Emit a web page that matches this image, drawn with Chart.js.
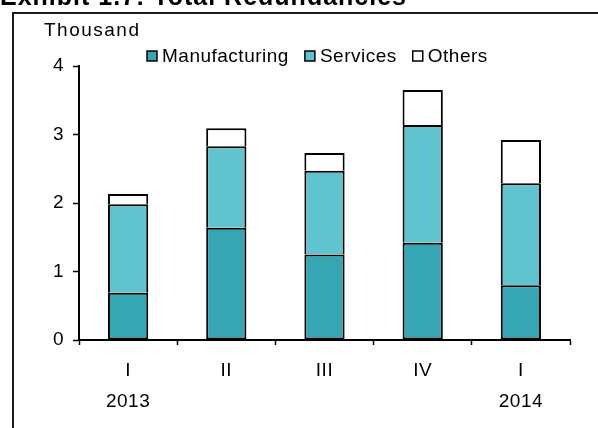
<!DOCTYPE html>
<html>
<head>
<meta charset="utf-8">
<style>
  html, body { margin: 0; padding: 0; background: #fff; }
  #wrap { width: 598px; height: 428px; position: relative; }
</style>
<script src="https://cdn.jsdelivr.net/npm/chart.js@4/dist/chart.umd.min.js"></script>
</head>
<body>
<div id="wrap"><canvas id="c" width="598" height="428"></canvas></div>
<script>
// Quarters with the year shown under the first quarter of each year
const quarters = ['I', 'II', 'III', 'IV', 'I'];
const years = ['2013', '', '', '', '2014'];

// Redundancies by sector, thousands
const manufacturing = [0.69, 1.64, 1.25, 1.42, 0.80];
const services = [1.29, 1.19, 1.22, 1.72, 1.49];
const others = [0.15, 0.26, 0.26, 0.51, 0.63];

const yTicks = [0, 1, 2, 3, 4];

const seriesNames = ['Manufacturing', 'Services', 'Others'];
const seriesColors = ['#36a6b4', '#60c4cf', '#ffffff'];

const FONT = 'Liberation Sans, Arial, sans-serif';
const SPACING = '0.5px';

const labels = quarters.map((q, i) => [q, years[i]]);

// Frame, title, unit caption and legend drawn around the plot
const decorations = {
  id: 'decorations',
  beforeLayout(chart) { chart.ctx.letterSpacing = SPACING; },
  beforeDraw(chart) { chart.ctx.letterSpacing = SPACING; },
  afterDraw(chart) {
    const ctx = chart.ctx;
    ctx.save();

    // outer frame (extends past the canvas edge)
    ctx.strokeStyle = '#1a1a1a';
    ctx.lineWidth = 2;
    ctx.strokeRect(13, 13, 700, 600);

    // title
    ctx.fillStyle = '#000';
    ctx.letterSpacing = '1px';
    ctx.font = 'bold 25px ' + FONT;
    ctx.textAlign = 'left';
    ctx.textBaseline = 'alphabetic';
    ctx.fillText('Exhibit 1.7: Total Redundancies', 0, 5);

    // unit caption
    ctx.letterSpacing = '1.5px';
    ctx.font = '19px ' + FONT;
    ctx.fillText('Thousand', 44, 36);

    // legend
    ctx.letterSpacing = SPACING;
    ctx.textBaseline = 'middle';
    let x = 147;
    const y = 56;
    chart.data.datasets.forEach((ds, i) => {
      ctx.fillStyle = ds.backgroundColor;
      ctx.fillRect(x, y - 5, 10, 10);
      ctx.strokeStyle = '#000';
      ctx.lineWidth = 1.5;
      ctx.strokeRect(x, y - 5, 10, 10);
      ctx.fillStyle = '#000';
      ctx.fillText(ds.label, x + 15, y + 1);
      x += 15 + ctx.measureText(ds.label).width + 16;
    });
    ctx.restore();
  }
};

// Lowest segment gets a full outline; upper segments share the line below them
const datasets = [manufacturing, services, others].map((data, i) => ({
  label: seriesNames[i],
  data: data,
  backgroundColor: seriesColors[i],
  borderColor: '#000',
  borderWidth: i === 0 ? 2 : { top: 2, left: 2, right: 2, bottom: 0 },
  borderSkipped: false,
  categoryPercentage: 1,
  barPercentage: 0.41
}));

new Chart(document.getElementById('c'), {
  type: 'bar',
  data: { labels: labels, datasets: datasets },
  plugins: [decorations],
  options: {
    responsive: false,
    animation: false,
    devicePixelRatio: 1,
    layout: { padding: { top: 66, right: 28, left: 0, bottom: 0 } },
    plugins: {
      legend: { display: false },
      title: { display: false },
      tooltip: { enabled: false }
    },
    scales: {
      x: {
        stacked: true,
        afterFit(scale) { scale.height = 88; },
        border: { display: true, color: '#000', width: 2 },
        grid: {
          offset: true,
          drawOnChartArea: false,
          drawTicks: true,
          tickLength: 5,
          tickColor: '#000',
          tickWidth: 1.5
        },
        ticks: {
          color: '#000',
          font: { family: FONT, size: 19, lineHeight: 1.65 },
          padding: 10,
          maxRotation: 0,
          autoSkip: false
        }
      },
      y: {
        stacked: true,
        min: 0,
        max: 4,
        afterFit(scale) { scale.width = 79; },
        afterBuildTicks(scale) { scale.ticks = yTicks.map(v => ({ value: v })); },
        border: { display: true, color: '#000', width: 2 },
        grid: {
          drawOnChartArea: false,
          drawTicks: true,
          tickLength: 6,
          tickColor: '#000',
          tickWidth: 1.5
        },
        ticks: {
          color: '#000',
          font: { family: FONT, size: 19 },
          padding: 9
        }
      }
    }
  }
});
</script>
</body>
</html>
